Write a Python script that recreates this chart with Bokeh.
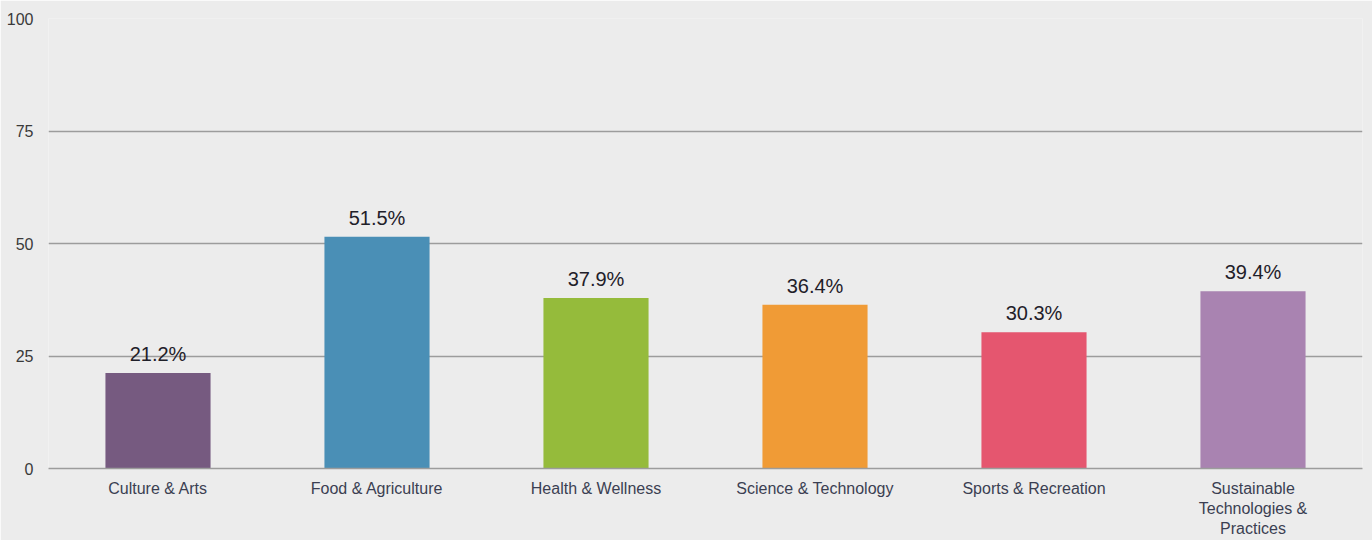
from bokeh.plotting import figure
from bokeh.models import ColumnDataSource, Range1d, FixedTicker, LabelSet
from bokeh.core.properties import value
from bokeh.embed import file_html
from bokeh.resources import INLINE

categories = ["Culture & Arts", "Food & Agriculture", "Health & Wellness",
              "Science & Technology", "Sports & Recreation",
              "Sustainable\nTechnologies &\nPractices"]
values = [21.2, 51.5, 37.9, 36.4, 30.3, 39.4]
colors = ["#765a80", "#4a8fb6", "#95bb3b", "#f09b36", "#e5566f", "#a983b1"]
value_labels = [f"{v:.1f}%" for v in values]
y_ticks = [0, 25, 50, 75, 100]

BG = "#ececec"
FONT = "Liberation Sans"

src = ColumnDataSource(dict(cat=categories, val=values, col=colors, lab=value_labels))

p = figure(x_range=categories, y_range=Range1d(0, 100), width=1372, height=540,
           output_backend="svg", toolbar_location=None,
           min_border_left=48, min_border_right=10, min_border_top=18, min_border_bottom=72)
p.background_fill_color = BG
p.border_fill_color = BG
p.outline_line_color = None

p.vbar(x="cat", top="val", width=0.48, color="col", source=src, line_color=None)

labels = LabelSet(x="cat", y="val", text="lab", source=src, text_align="center",
                  text_baseline="bottom", y_offset=8, text_font=value(FONT),
                  text_font_size="20px", text_color="#1f2029")
p.add_layout(labels)

p.yaxis.ticker = FixedTicker(ticks=y_ticks)
p.yaxis.axis_line_color = None
p.yaxis.major_tick_line_color = None
p.yaxis.minor_tick_line_color = None
p.yaxis.major_label_standoff = 9
p.yaxis.major_label_text_font = FONT
p.yaxis.major_label_text_font_size = "16px"
p.yaxis.major_label_text_color = "#3a3a3a"

p.xaxis.axis_line_color = "#9c9c9c"
p.xaxis.axis_line_width = 1.5
p.xaxis.major_tick_line_color = None
p.xaxis.minor_tick_line_color = None
p.xaxis.major_label_standoff = 5
p.xaxis.major_label_text_font = FONT
p.xaxis.major_label_text_font_size = "16px"
p.xaxis.major_label_text_color = "#3b3f52"

p.xgrid.grid_line_color = None
p.ygrid.grid_line_color = "#9c9c9c"
p.ygrid.grid_line_width = 1.5

html = file_html(p, INLINE)
html = html.replace("<body>", '<body style="background:%s">' % BG, 1)
open("out.html", "w").write(html)
